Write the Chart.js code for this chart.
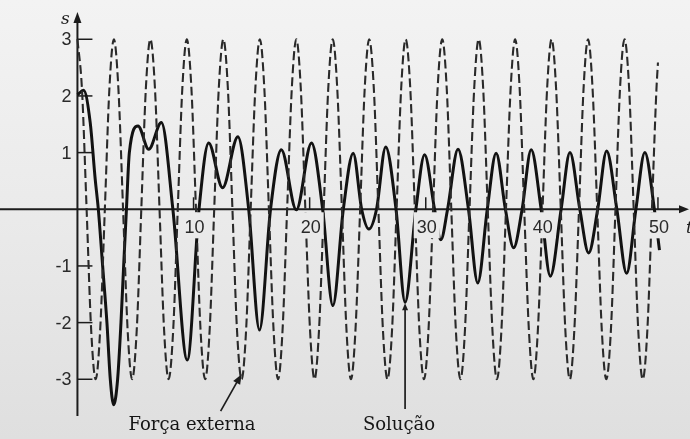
<!DOCTYPE html>
<html><head><meta charset="utf-8">
<script src="https://cdn.jsdelivr.net/npm/chart.js@4.4.1/dist/chart.umd.min.js"></script>
<style>html,body{margin:0;padding:0;background:#ebebeb;overflow:hidden}canvas{display:block}</style>
</head><body>
<canvas id="c" width="690" height="439"></canvas>
<script>
// External force (dashed)
const forceT = [
 0, 0.39, 0.79, 1.18, 1.57, 1.96, 2.36, 2.75,
 3.14, 3.53, 3.93, 4.32, 4.71, 5.11, 5.50, 5.89,
 6.28, 6.68, 7.07, 7.46, 7.85, 8.25, 8.64, 9.03,
 9.42, 9.82, 10.21, 10.60, 11.00, 11.39, 11.78, 12.17,
 12.57, 12.96, 13.35, 13.74, 14.14, 14.53, 14.92, 15.32,
 15.71, 16.10, 16.49, 16.89, 17.28, 17.67, 18.06, 18.46,
 18.85, 19.24, 19.63, 20.03, 20.42, 20.81, 21.21, 21.60,
 21.99, 22.38, 22.78, 23.17, 23.56, 23.95, 24.35, 24.74,
 25.13, 25.53, 25.92, 26.31, 26.70, 27.10, 27.49, 27.88,
 28.27, 28.67, 29.06, 29.45, 29.85, 30.24, 30.63, 31.02,
 31.42, 31.81, 32.20, 32.59, 32.99, 33.38, 33.77, 34.17,
 34.56, 34.95, 35.34, 35.74, 36.13, 36.52, 36.91, 37.31,
 37.70, 38.09, 38.48, 38.88, 39.27, 39.66, 40.06, 40.45,
 40.84, 41.23, 41.63, 42.02, 42.41, 42.80, 43.20, 43.59,
 43.98, 44.37, 44.77, 45.16, 45.55, 45.95, 46.34, 46.73,
 47.12, 47.52, 47.91, 48.30, 48.69, 49.09, 49.48, 49.87,
 50.00
];
const forceS = [
 3, 2.12, 0, -2.12, -3, -2.12, 0, 2.12,
 3, 2.12, 0, -2.12, -3, -2.12, 0, 2.12,
 3, 2.12, 0, -2.12, -3, -2.12, 0, 2.12,
 3, 2.12, 0, -2.12, -3, -2.12, 0, 2.12,
 3, 2.12, 0, -2.12, -3, -2.12, 0, 2.12,
 3, 2.12, 0, -2.12, -3, -2.12, 0, 2.12,
 3, 2.12, 0, -2.12, -3, -2.12, 0, 2.12,
 3, 2.12, 0, -2.12, -3, -2.12, 0, 2.12,
 3, 2.12, 0, -2.12, -3, -2.12, 0, 2.12,
 3, 2.12, 0, -2.12, -3, -2.12, 0, 2.12,
 3, 2.12, 0, -2.12, -3, -2.12, 0, 2.12,
 3, 2.12, 0, -2.12, -3, -2.12, 0, 2.12,
 3, 2.12, 0, -2.12, -3, -2.12, 0, 2.12,
 3, 2.12, 0, -2.12, -3, -2.12, 0, 2.12,
 3, 2.12, 0, -2.12, -3, -2.12, 0, 2.12,
 3, 2.12, 0, -2.12, -3, -2.12, 0, 2.12,
 2.59
];
// Solution (solid)
const solT = [0, 0.53, 1.1, 1.53, 1.8, 2.17, 2.54, 2.83, 3.12, 3.46, 3.75, 3.98, 4.22, 4.47, 5.22,
 6.14, 7.23, 8.22, 9.46, 10.47, 11.3, 12.5, 13.82, 14.75, 15.68, 16.63, 17.56, 18.85, 20.16, 21.12,
 22.0, 22.9, 23.75, 24.48, 25.1, 25.76, 26.55, 27.44, 28.22, 29.15, 29.9, 30.76, 31.3, 31.88, 32.78,
 33.68, 34.48, 35.3, 36.06, 36.86, 37.57, 38.3, 39.08, 39.94, 40.73, 41.66, 42.42, 43.27, 44.03, 44.81,
 45.58, 46.46, 47.3, 48.1, 48.87, 49.69, 50.13];
const solS = [2.02, 2.1, 1.53, 0.53, 0, -1.0, -2.0, -3.0, -3.45, -3.0, -2.0, -1.0, 0, 1.0, 1.47,
 1.06, 1.53, 0, -2.66, 0, 1.17, 0.38, 1.28, 0, -2.13, 0, 1.05, -0.01, 1.17, 0,
 -1.7, 0, 0.99, 0, -0.35, 0, 1.1, 0, -1.64, 0, 0.96, 0, -0.54, 0, 1.06,
 0, -1.3, 0, 0.99, 0, -0.68, 0, 1.05, 0, -1.18, 0, 1.0, 0, -0.77, 0,
 1.03, 0, -1.13, 0, 1.0, 0, -0.72];

const xTicks = [10, 20, 30, 40, 50];
const yTicks = [3, 2, 1, -1, -2, -3];
const xAxisName = 't';
const yAxisName = 's';
const forceLabel = 'Força externa';
const solLabel = 'Solução';
const forcePointer = {t: 14.14, s: -2.91};
const solPointer = {t: 28.22, s: -1.64};

const XMIN = -6.67, XMAX = 52.76, YMIN = -4.054, YMAX = 3.693;

function paper(ctx, h) {
  const g = ctx.createLinearGradient(0, 0, 0, h);
  g.addColorStop(0, '#f3f3f3');
  g.addColorStop(0.5, '#eaeaea');
  g.addColorStop(1, '#dfdfdf');
  return g;
}
function arrowHead(ctx, tx, ty, fx, fy, len, half) {
  const a = Math.atan2(ty - fy, tx - fx);
  ctx.beginPath();
  ctx.moveTo(tx, ty);
  ctx.lineTo(tx - len * Math.cos(a) + half * Math.sin(a), ty - len * Math.sin(a) - half * Math.cos(a));
  ctx.lineTo(tx - len * Math.cos(a) - half * Math.sin(a), ty - len * Math.sin(a) + half * Math.cos(a));
  ctx.closePath();
  ctx.fill();
}

const axesPlugin = {
  id: 'axes',
  beforeDraw(chart) {
    const {ctx, width, height} = chart;
    ctx.save();
    ctx.fillStyle = paper(ctx, height);
    ctx.fillRect(0, 0, width, height);
    ctx.restore();
  },
  beforeDatasetsDraw(chart) {
    const {ctx, width} = chart;
    const xs = chart.scales.x, ys = chart.scales.y;
    const x0 = xs.getPixelForValue(0), y0 = ys.getPixelForValue(0);
    ctx.save();
    ctx.strokeStyle = '#1c1c1c';
    ctx.fillStyle = '#1c1c1c';
    ctx.lineWidth = 2;
    ctx.beginPath(); ctx.moveTo(0, y0); ctx.lineTo(width - 6, y0); ctx.stroke();
    arrowHead(ctx, width - 1, y0, 0, y0, 10, 4);
    ctx.beginPath(); ctx.moveTo(x0, 416); ctx.lineTo(x0, 20); ctx.stroke();
    arrowHead(ctx, x0, 12, x0, 100, 11, 4);
    ctx.lineWidth = 1.5;
    yTicks.forEach(v => {
      const y = ys.getPixelForValue(v);
      ctx.beginPath(); ctx.moveTo(x0, y); ctx.lineTo(x0 + 15, y); ctx.stroke();
    });
    xTicks.forEach(v => {
      const x = xs.getPixelForValue(v);
      ctx.beginPath(); ctx.moveTo(x, y0); ctx.lineTo(x, y0 - 12); ctx.stroke();
    });
    ctx.restore();
  },
  afterDatasetsDraw(chart) {
    const {ctx, height} = chart;
    const xs = chart.scales.x, ys = chart.scales.y;
    const x0 = xs.getPixelForValue(0), y0 = ys.getPixelForValue(0);
    ctx.save();
    // x tick labels with paper backdrop
    ctx.font = '18px "Liberation Sans", Arial, sans-serif';
    ctx.textAlign = 'center';
    ctx.textBaseline = 'alphabetic';
    xTicks.forEach(v => {
      const x = xs.getPixelForValue(v) + 1;
      const w = ctx.measureText(String(v)).width;
      ctx.fillStyle = paper(ctx, height);
      ctx.fillRect(x - w / 2 - 3, y0 + 3, w + 6, 26);
      ctx.fillStyle = '#2a2a2a';
      ctx.fillText(String(v), x, y0 + 24);
    });
    // y tick labels
    ctx.textAlign = 'right';
    ctx.textBaseline = 'middle';
    yTicks.forEach(v => {
      const y = ys.getPixelForValue(v);
      ctx.fillStyle = '#2a2a2a';
      ctx.fillText(String(v), x0 - 6, y + 1);
    });
    // axis names
    ctx.font = 'italic 17px "DejaVu Serif", serif';
    ctx.fillStyle = '#1c1c1c';
    ctx.textAlign = 'center';
    ctx.textBaseline = 'alphabetic';
    ctx.fillText(yAxisName, x0 - 12, 24);
    ctx.textAlign = 'left';
    ctx.fillText(xAxisName, 686, y0 + 24);
    // pointers
    ctx.strokeStyle = '#1c1c1c';
    ctx.fillStyle = '#1c1c1c';
    ctx.lineWidth = 1.7;
    const fx = xs.getPixelForValue(forcePointer.t), fy = ys.getPixelForValue(forcePointer.s);
    ctx.beginPath(); ctx.moveTo(fx - 21, fy + 37); ctx.lineTo(fx - 3, fy + 5); ctx.stroke();
    arrowHead(ctx, fx, fy, fx - 21, fy + 37, 10, 4);
    const sx = xs.getPixelForValue(solPointer.t), sy = ys.getPixelForValue(solPointer.s);
    ctx.beginPath(); ctx.moveTo(sx, 409); ctx.lineTo(sx, sy + 6); ctx.stroke();
    arrowHead(ctx, sx, sy + 1, sx, 409, 7, 3);
    // annotation labels
    ctx.font = '18px "DejaVu Serif", serif';
    ctx.fillStyle = '#151515';
    ctx.textAlign = 'center';
    ctx.fillText(forceLabel, 192, 430);
    ctx.fillText(solLabel, 399, 430);
    ctx.restore();
  }
};

const forceData = forceT.map((t, i) => ({x: t, y: forceS[i]}));
const solData = solT.map((t, i) => ({x: t, y: solS[i]}));

new Chart(document.getElementById('c').getContext('2d'), {
  type: 'line',
  data: {
    datasets: [
      {label: forceLabel, data: forceData, borderColor: '#2a2a2a', borderWidth: 2.1,
       borderDash: [9, 4], pointRadius: 0, fill: false, cubicInterpolationMode: 'monotone'},
      {label: solLabel, data: solData, borderColor: '#121212', borderWidth: 3,
       pointRadius: 0, fill: false, cubicInterpolationMode: 'monotone'}
    ]
  },
  options: {
    responsive: false,
    animation: false,
    devicePixelRatio: 1,
    events: [],
    layout: {padding: 0},
    plugins: {legend: {display: false}, tooltip: {enabled: false}, title: {display: false}},
    scales: {
      x: {type: 'linear', min: XMIN, max: XMAX, display: false},
      y: {type: 'linear', min: YMIN, max: YMAX, display: false}
    }
  },
  plugins: [axesPlugin]
});
</script>
</body></html>
